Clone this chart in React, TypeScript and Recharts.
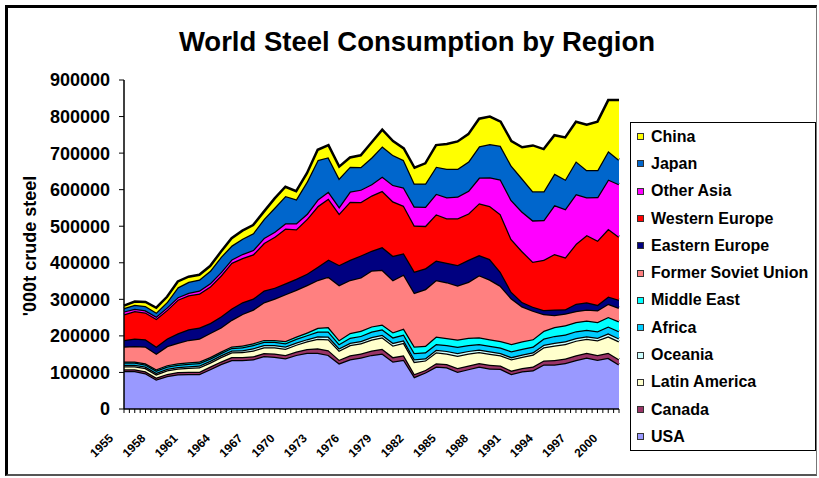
import React from 'react';
import { AreaChart, Area, XAxis, YAxis, Legend } from 'recharts';

const FONT = '"Liberation Sans", Arial, Helvetica, sans-serif';

// Categories
const years = [
  1955, 1956, 1957, 1958, 1959, 1960, 1961, 1962, 1963, 1964,
  1965, 1966, 1967, 1968, 1969, 1970, 1971, 1972, 1973, 1974,
  1975, 1976, 1977, 1978, 1979, 1980, 1981, 1982, 1983, 1984,
  1985, 1986, 1987, 1988, 1989, 1990, 1991, 1992, 1993, 1994,
  1995, 1996, 1997, 1998, 1999, 2000, 2001,
];

// Tick labels
const yearLabels = [1955, 1958, 1961, 1964, 1967, 1970, 1973, 1976, 1979, 1982, 1985, 1988, 1991, 1994, 1997, 2000];
const yTicks = [0, 100000, 200000, 300000, 400000, 500000, 600000, 700000, 800000, 900000];

// Series values, '000t crude steel
const usa = [
  104000, 104000, 98000, 81000, 90000, 95000, 96000, 96000, 109000, 123000,
  134000, 134000, 136000, 145000, 143000, 139000, 148000, 154000, 154000, 148000,
  125000, 136000, 141000, 148000, 152000, 130000, 135000, 88000, 100000, 116000,
  114000, 102000, 109000, 116000, 111000, 110000, 96000, 103000, 106000, 122000,
  122000, 126000, 134000, 141000, 135000, 140000, 122000,
];
const canada = [
  5000, 5000, 5000, 5000, 6000, 6000, 6000, 6000, 7000, 7000,
  8000, 8000, 8000, 8000, 9000, 9000, 9000, 10000, 12000, 13000,
  10000, 11000, 11000, 12000, 13000, 12000, 12000, 8000, 7000, 9000,
  9000, 10000, 10000, 10000, 10000, 9000, 9000, 9000, 10000, 11000,
  12000, 12000, 13000, 13000, 13000, 14000, 14000,
];
const latinAmerica = [
  8000, 8000, 9000, 9000, 10000, 10000, 11000, 12000, 11000, 12000,
  13000, 14000, 16000, 16000, 17000, 17000, 19000, 21000, 26000, 30000,
  25000, 28000, 28000, 30000, 31000, 32000, 34000, 33000, 26000, 30000,
  29000, 34000, 33000, 30000, 30000, 28000, 31000, 31000, 33000, 36000,
  40000, 40000, 40000, 38000, 40000, 45000, 49000,
];
const oceania = [
  4000, 4000, 4000, 4000, 4000, 4000, 4000, 5000, 5000, 5000,
  5000, 5000, 6000, 6000, 6000, 6000, 6000, 6000, 7000, 7000,
  6000, 6000, 6000, 7000, 7000, 7000, 7000, 7000, 6000, 7000,
  7000, 7000, 7000, 7000, 7000, 6000, 6000, 6000, 6000, 7000,
  7000, 7000, 7000, 7000, 7000, 8000, 8000,
];
const africa = [
  6000, 6000, 6000, 6000, 6000, 6000, 7000, 7000, 6000, 6000,
  7000, 8000, 9000, 9000, 9000, 9000, 10000, 11000, 13000, 14000,
  12000, 14000, 14000, 15000, 15000, 15000, 16000, 17000, 16000, 16000,
  16000, 17000, 16000, 15000, 15000, 15000, 16000, 16000, 16000, 17000,
  19000, 19000, 19000, 18000, 18000, 19000, 20000,
];
const middleEast = [
  3000, 3000, 3000, 4000, 4000, 4000, 4000, 4000, 4000, 4000,
  4000, 5000, 5000, 5000, 5000, 6000, 6000, 7000, 10000, 12000,
  11000, 13000, 14000, 14000, 13000, 14000, 16000, 18000, 18000, 20000,
  19000, 20000, 20000, 18000, 18000, 18000, 20000, 20000, 20000, 21000,
  24000, 25000, 25000, 25000, 25000, 26000, 27000,
];
const formerSovietUnion = [
  41000, 42000, 46000, 43000, 52000, 56000, 61000, 63000, 66000, 66000,
  73000, 86000, 92000, 103000, 113000, 128000, 128000, 130000, 131000, 138000,
  150000, 145000, 146000, 153000, 150000, 143000, 148000, 147000, 155000, 155000,
  153000, 148000, 153000, 170000, 163000, 151000, 125000, 96000, 78000, 46000,
  33000, 32000, 30000, 30000, 32000, 36000, 37000,
];
const easternEurope = [
  18000, 21000, 20000, 19000, 21000, 26000, 29000, 30000, 27000, 30000,
  31000, 32000, 30000, 32000, 30000, 30000, 30000, 31000, 36000, 47000,
  55000, 55000, 60000, 54000, 62000, 66000, 58000, 58000, 57000, 53000,
  53000, 56000, 60000, 55000, 56000, 38000, 18000, 12000, 11000, 11000,
  15000, 12000, 20000, 20000, 15000, 20000, 22000,
];
const westernEurope = [
  70000, 75000, 73000, 76000, 78000, 92000, 93000, 93000, 100000, 112000,
  125000, 121000, 121000, 130000, 139000, 150000, 136000, 150000, 166000, 167000,
  141000, 159000, 146000, 151000, 154000, 149000, 130000, 126000, 116000, 127000,
  122000, 128000, 127000, 142000, 145000, 158000, 144000, 139000, 123000, 137000,
  152000, 142000, 164000, 184000, 176000, 185000, 172000,
];
const otherAsia = [
  8000, 6000, 6000, 6000, 7000, 7000, 7000, 8000, 9000, 9000,
  9000, 11000, 12000, 14000, 14000, 14000, 16000, 14000, 18000, 19000,
  18000, 28000, 34000, 31000, 39000, 45000, 50000, 52000, 52000, 56000,
  57000, 59000, 62000, 70000, 79000, 95000, 107000, 108000, 113000, 109000,
  134000, 132000, 136000, 103000, 119000, 135000, 144000,
];
const japan = [
  9000, 11000, 12000, 11000, 15000, 27000, 30000, 30000, 34000, 42000,
  38000, 42000, 46000, 52000, 66000, 75000, 66000, 88000, 108000, 94000,
  78000, 68000, 62000, 73000, 83000, 82000, 75000, 63000, 64000, 74000,
  78000, 76000, 80000, 86000, 91000, 92000, 94000, 91000, 80000, 79000,
  86000, 81000, 90000, 75000, 74000, 78000, 67000,
];
const china = [
  7000, 9000, 11000, 13000, 14000, 16000, 14000, 13000, 13000, 14000,
  20000, 22000, 22000, 20000, 25000, 25000, 22000, 23000, 28000, 33000,
  32000, 25000, 32000, 41000, 45000, 38000, 32000, 43000, 55000, 59000,
  68000, 75000, 75000, 75000, 75000, 66000, 67000, 85000, 125000, 115000,
  105000, 115000, 108000, 124000, 132000, 139000, 163000,
];

// stacking order, bottom first
const series = [
  { key: 'usa', name: 'USA', color: '#9999FF', values: usa },
  { key: 'canada', name: 'Canada', color: '#993366', values: canada },
  { key: 'latinAmerica', name: 'Latin America', color: '#FFFFCC', values: latinAmerica },
  { key: 'oceania', name: 'Oceania', color: '#CCFFFF', values: oceania },
  { key: 'africa', name: 'Africa', color: '#00CCFF', values: africa },
  { key: 'middleEast', name: 'Middle East', color: '#00FFFF', values: middleEast },
  { key: 'fsu', name: 'Former Soviet Union', color: '#FF8080', values: formerSovietUnion },
  { key: 'easternEurope', name: 'Eastern Europe', color: '#000080', values: easternEurope },
  { key: 'westernEurope', name: 'Western Europe', color: '#FF0000', values: westernEurope },
  { key: 'otherAsia', name: 'Other Asia', color: '#FF00FF', values: otherAsia },
  { key: 'japan', name: 'Japan', color: '#0066CC', values: japan },
  { key: 'china', name: 'China', color: '#FFFF00', values: china },
];

const chartData = years.map((year, i) => {
  const row: Record<string, number> = { year };
  series.forEach((s) => {
    row[s.key] = s.values[i];
  });
  return row;
});

// Excel draws a tick mark every half category
const minorTicks: number[] = [];
for (let t = years[0]; t <= years[years.length - 1]; t += 0.5) minorTicks.push(t);

const YearTick = ({ x, y, payload }: any) => {
  if (!yearLabels.includes(payload.value)) return <g />;
  return (
    <text
      x={x - 10}
      y={y + 26}
      transform={`rotate(-45, ${x - 10}, ${y + 26})`}
      textAnchor="end"
      fontSize={12}
      fontWeight={700}
      fontFamily={FONT}
      fill="#000"
    >
      {payload.value}
    </text>
  );
};

const renderLegend = () => (
  <div
    style={{
      width: 186,
      height: 329,
      boxSizing: 'border-box',
      border: '1px solid #000',
      background: '#fff',
      fontFamily: FONT,
      fontSize: 16,
      fontWeight: 700,
      color: '#000',
    }}
  >
    {[...series].reverse().map((s) => (
      <div key={s.key} style={{ display: 'flex', alignItems: 'center', height: 27.3 }}>
        <span
          style={{
            display: 'inline-block',
            width: 5,
            height: 5,
            border: '1px solid #333',
            background: s.color,
            marginLeft: 6,
            marginRight: 7,
          }}
        />
        <span style={{ whiteSpace: 'nowrap' }}>{s.name}</span>
      </div>
    ))}
  </div>
);

const App: React.FC = () => {
  return (
    <div style={{ position: 'relative', width: 819, height: 478, fontFamily: FONT, background: '#fff' }}>
      <style>{'body { margin: 0; }'}</style>
      {/* chart frame */}
      <div
        style={{
          position: 'absolute',
          left: 5,
          top: 5,
          width: 812,
          height: 471,
          boxSizing: 'border-box',
          borderLeft: '3px solid #000',
          borderTop: '3px solid #000',
          borderRight: '1px solid #777',
          borderBottom: '2px solid #555',
        }}
      />
      <div
        style={{
          position: 'absolute',
          left: 0,
          width: 834,
          top: 28,
          textAlign: 'center',
          fontSize: 27.5,
          lineHeight: '27px',
          fontWeight: 700,
          color: '#000',
        }}
      >
        World Steel Consumption by Region
      </div>
      <div
        style={{
          position: 'absolute',
          left: 30,
          top: 246,
          transform: 'translate(-50%, -50%) rotate(-90deg)',
          whiteSpace: 'nowrap',
          fontSize: 18,
          fontWeight: 700,
          color: '#000',
        }}
      >
        '000t crude steel
      </div>
      <div style={{ position: 'absolute', left: 0, top: 0 }}>
        <AreaChart
          width={819}
          height={478}
          data={chartData}
          margin={{ top: 80, right: 200, bottom: 9, left: 0 }}
        >
          <XAxis
            dataKey="year"
            type="number"
            domain={[1955, 2001]}
            ticks={minorTicks}
            interval={0}
            height={60}
            tickSize={4}
            tickMargin={0}
            axisLine={{ stroke: '#000', strokeWidth: 1.5 }}
            tickLine={{ stroke: '#000' }}
            tick={YearTick}
          />
          <YAxis
            type="number"
            domain={[0, 900000]}
            ticks={yTicks}
            interval={0}
            width={124}
            tickSize={5}
            tickMargin={9}
            axisLine={{ stroke: '#000', strokeWidth: 1.5 }}
            tickLine={{ stroke: '#000' }}
            tick={{ fontSize: 18, fontWeight: 700, fill: '#000', fontFamily: FONT }}
          />
          <Legend
            layout="horizontal"
            verticalAlign="middle"
            align="center"
            wrapperStyle={{ left: 630, top: 122, width: 186, height: 329 }}
            content={renderLegend}
          />
          {series.map((s) => (
            <Area
              key={s.key}
              type="linear"
              dataKey={s.key}
              name={s.name}
              stackId="1"
              stroke="#000"
              strokeWidth={2.5}
              fill={s.color}
              fillOpacity={1}
              dot={false}
              activeDot={false}
              isAnimationActive={false}
            />
          ))}
        </AreaChart>
      </div>
    </div>
  );
};

export default App;
